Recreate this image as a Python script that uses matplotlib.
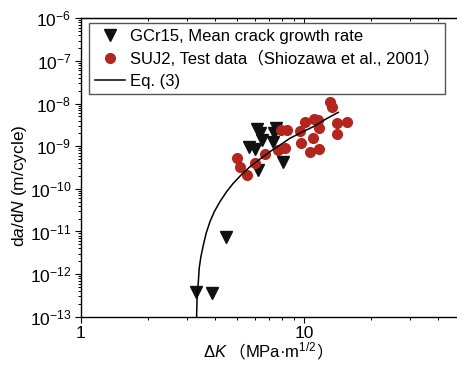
import numpy as np
import matplotlib
matplotlib.use("Agg")
import matplotlib.pyplot as plt
from matplotlib import ticker
from matplotlib.offsetbox import TextArea, HPacker, AnchoredOffsetbox

plt.rcParams['font.family'] = ['Liberation Sans', 'Noto Sans CJK SC']
plt.rcParams['mathtext.fontset'] = 'custom'
plt.rcParams['mathtext.rm'] = 'Liberation Sans'
plt.rcParams['mathtext.it'] = 'Liberation Sans:italic'
plt.rcParams['mathtext.bf'] = 'Liberation Sans:bold'

# GCr15 mean crack growth rate
gcr_dk = [3.28, 3.87, 4.47, 6.16, 6.35, 6.48, 7.49, 7.34, 7.26, 5.67, 6.03, 6.22, 8.05]
gcr_rate = [3.85e-13, 3.65e-13, 7.5e-12, 2.53e-9, 2.04e-9, 1.40e-9, 2.67e-9,
            2.04e-9, 1.25e-9, 9.6e-10, 8.6e-10, 2.77e-10, 4.27e-10]

# SUJ2 test data (Shiozawa et al., 2001)
suj_dk = [4.99, 5.16, 5.53, 6.03, 6.68, 7.64, 8.22, 7.88, 8.39, 9.60, 10.1, 11.1,
          11.6, 11.7, 13.1, 13.3, 14.1, 15.6, 14.1, 11.0, 9.67, 10.6, 11.7]
suj_rate = [5.29e-10, 3.17e-10, 2.06e-10, 4.04e-10, 6.56e-10, 8.15e-10, 8.93e-10,
            2.39e-9, 2.39e-9, 2.27e-9, 3.75e-9, 4.34e-9, 4.11e-9, 2.67e-9, 1.08e-8,
            8.5e-9, 3.55e-9, 3.75e-9, 1.90e-9, 1.58e-9, 1.17e-9, 7.31e-10, 8.6e-10]

# Eq. (3) curve
eq_dk = [3.30, 3.31, 3.32, 3.36, 3.39, 3.45, 3.54, 3.64, 3.79, 3.96, 4.20, 4.50,
         4.82, 5.26, 5.73, 6.35, 7.04, 8.65, 9.76, 11.0, 12.6, 14.25]
eq_rate = [1.0e-13, 1.88e-13, 3.3e-13, 6.6e-13, 1.38e-12, 2.56e-12, 4.85e-12,
           9.0e-12, 1.71e-11, 2.9e-11, 5.0e-11, 8.6e-11, 1.35e-10, 2.19e-10,
           3.31e-10, 5.0e-10, 7.43e-10, 1.53e-9, 2.12e-9, 2.86e-9, 4.4e-9, 6.22e-9]

FS = 12.5

fig = plt.figure(figsize=(4.57, 3.69), dpi=100)
ax = fig.add_axes([0.1772, 0.1417, 0.829, 0.8087])
ax.set_xscale('log')
ax.set_yscale('log')

ax.plot(gcr_dk, gcr_rate, linestyle='none', marker='v', ms=8.5, color='#111111',
        label='GCr15, Mean crack growth rate', zorder=3)
ax.plot(suj_dk, suj_rate, linestyle='none', marker='o', ms=7, color='#B3261E',
        label='SUJ2, Test data（Shiozawa et al., 2001）', zorder=3)
ax.plot(eq_dk, eq_rate, color='black', lw=1.1, label='Eq. (3)', zorder=4)

ax.set_xlim(1, 50)
ax.set_ylim(1e-13, 1e-6)

ax.xaxis.set_major_locator(ticker.LogLocator(base=10, numticks=10))
ax.xaxis.set_minor_locator(ticker.LogLocator(base=10, subs=np.arange(2, 10), numticks=10))
ax.xaxis.set_major_formatter(ticker.FormatStrFormatter('%g'))
ax.xaxis.set_minor_formatter(ticker.NullFormatter())
ax.yaxis.set_major_locator(ticker.LogLocator(base=10, numticks=20))
ax.yaxis.set_minor_locator(ticker.LogLocator(base=10, subs=np.arange(2, 10), numticks=20))
ax.yaxis.set_minor_formatter(ticker.NullFormatter())

ax.tick_params(which='major', direction='out', length=4, width=0.8, labelsize=FS, pad=3)
ax.tick_params(which='minor', direction='out', length=2.5, width=0.7)
for s in ax.spines.values():
    s.set_linewidth(1.0)

# inward ticks along the top edge
top = ax.secondary_xaxis('top')
top.xaxis.set_major_locator(ticker.LogLocator(base=10, numticks=10))
top.xaxis.set_minor_locator(ticker.LogLocator(base=10, subs=np.arange(2, 10), numticks=10))
top.tick_params(which='both', direction='in', labeltop=False, width=0.7)
top.tick_params(which='major', length=4)
top.tick_params(which='minor', length=2.5)

ax.set_ylabel(r"d$a$/d$N$ (m/cycle)", fontsize=FS)
ax.yaxis.set_label_coords(-0.137, 0.44)

# x label built from pieces so the full-width brackets come from a CJK font
XFS = 12
cjk = dict(fontsize=XFS, family=['Noto Sans CJK SC'])
parts = [TextArea(r"$\Delta K$", textprops=dict(fontsize=XFS)),
         TextArea("（", textprops=cjk),
         TextArea(r"MPa·m$^{1/2}$", textprops=dict(fontsize=XFS)),
         TextArea("）", textprops=cjk)]
xlab = HPacker(children=parts, align='baseline', pad=0, sep=0)
anchored = AnchoredOffsetbox(loc='center', child=xlab, pad=0, borderpad=0, frameon=False,
                             bbox_to_anchor=(268 / 457, 1 - 351 / 369),
                             bbox_transform=fig.transFigure)
fig.add_artist(anchored)

leg = ax.legend(loc='upper left', bbox_to_anchor=(0.021, 0.984), frameon=True,
                fancybox=False, edgecolor='#555555', framealpha=1, fontsize=12,
                handlelength=1.8, handletextpad=0.3, labelspacing=0.4,
                borderpad=0.35, borderaxespad=0)
leg.get_frame().set_linewidth(1.0)

fig.savefig('out.png', dpi=100)
